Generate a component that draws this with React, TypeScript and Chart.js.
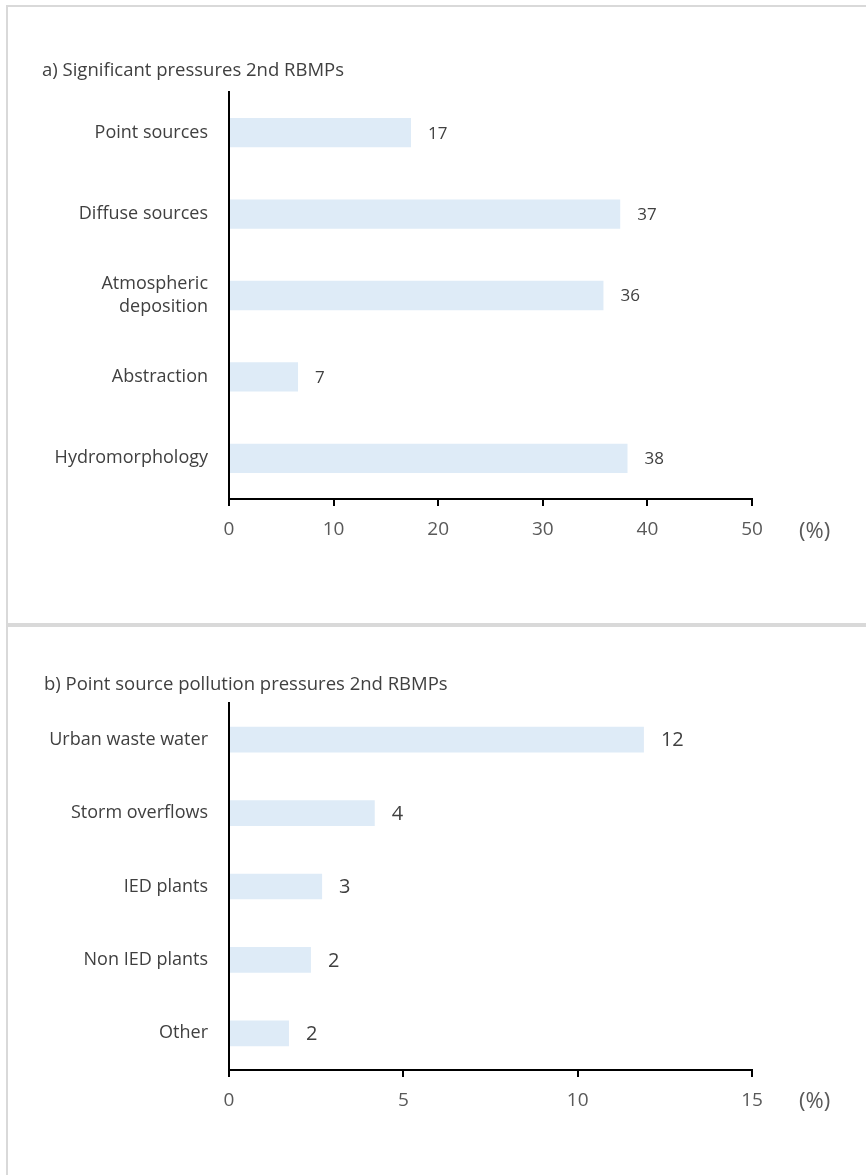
import React, { useEffect, useRef } from "react";
import { Chart, registerables } from "chart.js";

Chart.register(...registerables);

const topCategories: (string | string[])[] = [
  "Point sources",
  "Diffuse sources",
  ["Atmospheric", "deposition"],
  "Abstraction",
  "Hydromorphology",
];
const topValues: number[] = [17.4, 37.4, 35.8, 6.6, 38.1];
const topTicks = { min: 0, max: 50, step: 10 };
const topTitle = "a) Significant pressures 2nd RBMPs";

const bottomCategories: string[] = [
  "Urban waste water",
  "Storm overflows",
  "IED plants",
  "Non IED plants",
  "Other",
];
const bottomValues: number[] = [11.9, 4.18, 2.67, 2.35, 1.72];
const bottomTicks = { min: 0, max: 15, step: 5 };
const bottomTitle = "b) Point source pollution pressures 2nd RBMPs";

const unitLabel = "(%)";

const FONT = "'Open Sans', 'DejaVu Sans', sans-serif";
const BAR_COLOR = "#DEEBF7";
const LABEL_COLOR = "#404040";
const TICK_COLOR = "#595959";

type Cfg = {
  categories: (string | string[])[];
  values: number[];
  ticks: { min: number; max: number; step: number };
  width: number;
  height: number;
  areaLeft: number;
  areaRight: number;
  areaTop: number;
  areaBottom: number;
  barPct: number;
  dataFont: number;
};

const valueLabelPlugin = (size: number) => ({
  id: "valueLabels",
  afterDatasetsDraw(chart: any) {
    const ctx = chart.ctx;
    const meta = chart.getDatasetMeta(0);
    const data = chart.data.datasets[0].data as number[];
    ctx.save();
    ctx.font = `${size}px ${FONT}`;
    ctx.fillStyle = LABEL_COLOR;
    ctx.textAlign = "left";
    ctx.textBaseline = "middle";
    meta.data.forEach((bar: any, i: number) => {
      ctx.fillText(String(Math.round(data[i])), bar.x + 17, bar.y + 1);
    });
    ctx.restore();
  },
});

function BarChart({ cfg }: { cfg: Cfg }) {
  const ref = useRef<HTMLCanvasElement | null>(null);
  useEffect(() => {
    if (!ref.current) return;
    const chart = new Chart(ref.current, {
      type: "bar",
      data: {
        labels: cfg.categories as any,
        datasets: [
          {
            data: cfg.values,
            backgroundColor: BAR_COLOR,
            borderWidth: 0,
            barPercentage: cfg.barPct,
            categoryPercentage: 1,
          },
        ],
      },
      options: {
        indexAxis: "y",
        animation: false,
        responsive: false,
        maintainAspectRatio: false,
        layout: {
          padding: {
            left: 0,
            right: cfg.width - cfg.areaRight,
            top: cfg.areaTop,
            bottom: 0,
          },
        },
        plugins: {
          legend: { display: false },
          tooltip: { enabled: false },
          title: { display: false },
        },
        scales: {
          x: {
            type: "linear",
            min: cfg.ticks.min,
            max: cfg.ticks.max,
            ticks: {
              stepSize: cfg.ticks.step,
              color: TICK_COLOR,
              font: { family: FONT, size: 19 },
              padding: 12,
            },
            grid: {
              display: true,
              drawOnChartArea: false,
              drawTicks: true,
              tickLength: 7,
              color: "#000",
              lineWidth: 2,
            },
            border: { display: true, color: "#000", width: 2 },
            afterFit: (scale: any) => {
              scale.height = cfg.height - cfg.areaBottom;
            },
          },
          y: {
            type: "category",
            ticks: {
              color: LABEL_COLOR,
              font: { family: FONT, size: 18, lineHeight: 1.25 },
              padding: 13,
            },
            grid: { display: false },
            border: { display: true, color: "#000", width: 2 },
            afterFit: (scale: any) => {
              scale.width = cfg.areaLeft;
            },
          },
        },
      },
      plugins: [valueLabelPlugin(cfg.dataFont)],
    });
    return () => chart.destroy();
  }, [cfg]);
  return (
    <canvas
      ref={ref}
      width={cfg.width}
      height={cfg.height}
      style={{ position: "absolute", left: 0, top: 0, width: cfg.width, height: cfg.height }}
    />
  );
}

const topCfg: Cfg = {
  categories: topCategories,
  values: topValues,
  ticks: topTicks,
  width: 866,
  height: 627,
  areaLeft: 229,
  areaRight: 752,
  areaTop: 92,
  areaBottom: 499,
  barPct: 0.36,
  dataFont: 17,
};

const bottomCfg: Cfg = {
  categories: bottomCategories,
  values: bottomValues,
  ticks: bottomTicks,
  width: 866,
  height: 548,
  areaLeft: 229,
  areaRight: 752,
  areaTop: 76,
  areaBottom: 443,
  barPct: 0.35,
  dataFont: 20,
};

const textStyle: React.CSSProperties = {
  position: "absolute",
  fontFamily: FONT,
  color: LABEL_COLOR,
  whiteSpace: "nowrap",
  lineHeight: 1,
};

export default function App() {
  return (
    <div
      style={{
        position: "absolute",
        left: 0,
        top: 0,
        width: 866,
        height: 1175,
        overflow: "hidden",
        background: "#fff",
      }}
    >
      <div
        style={{
          position: "absolute",
          left: 6,
          top: 5,
          width: 900,
          height: 620,
          border: "2px solid #D9D9D9",
          boxSizing: "border-box",
        }}
      />
      <div
        style={{
          position: "absolute",
          left: 6,
          top: 625,
          width: 900,
          height: 700,
          border: "2px solid #D9D9D9",
          boxSizing: "border-box",
        }}
      />
      <div style={{ position: "absolute", left: 0, top: 0, width: 866, height: 627 }}>
        <BarChart cfg={topCfg} />
        <div style={{ ...textStyle, left: 42, top: 60, fontSize: 18.5 }}>{topTitle}</div>
        <div style={{ ...textStyle, left: 799, top: 518, fontSize: 22, color: TICK_COLOR }}>
          {unitLabel}
        </div>
      </div>
      <div style={{ position: "absolute", left: 0, top: 627, width: 866, height: 548 }}>
        <BarChart cfg={bottomCfg} />
        <div style={{ ...textStyle, left: 44, top: 47, fontSize: 18.5 }}>{bottomTitle}</div>
        <div style={{ ...textStyle, left: 799, top: 461, fontSize: 22, color: TICK_COLOR }}>
          {unitLabel}
        </div>
      </div>
    </div>
  );
}
